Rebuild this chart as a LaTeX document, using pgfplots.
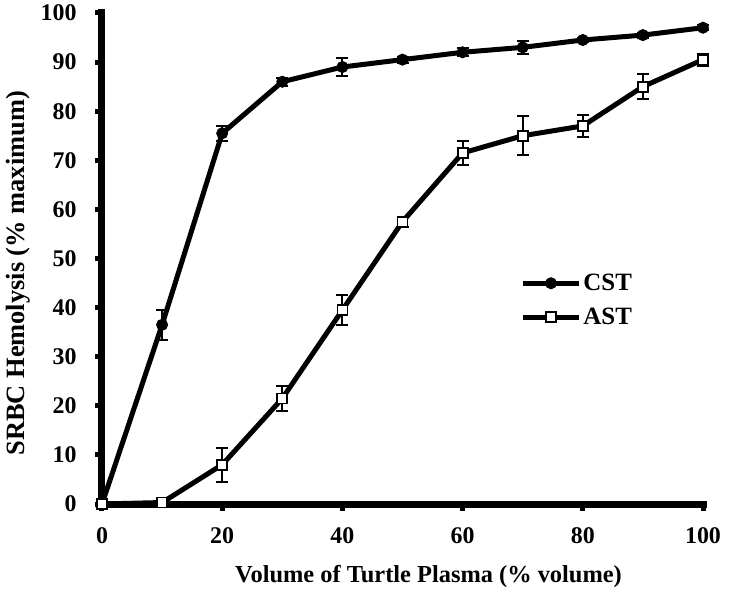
\documentclass[border=0pt]{standalone}
\usepackage{fontspec}
\setmainfont{Liberation Serif}
\usepackage{pgfplots}
\pgfplotsset{compat=1.18}
\begin{document}
\begin{tikzpicture}
\path[use as bounding box] (-102bp,-91bp) rectangle (644bp,504bp);
\begin{axis}[
  scale only axis,
  width=601bp, height=491bp,
  at={(0,0)}, anchor=south west,
  xmin=0, xmax=100, ymin=0, ymax=100,
  axis x line*=bottom, axis y line*=left,
  axis line style={line width=7bp, line cap=rect},
  xtick={0,20,40,60,80,100},
  ytick={0,10,...,100},
  tick style={line width=5bp, black},
  major tick length=7bp,
  tick align=outside,
  /pgf/number format/assume math mode=true,
  tick label style={font=\fontsize{24}{28}\selectfont\bfseries},
  xticklabel style={anchor=north, yshift=-13bp},
  yticklabel style={anchor=east, xshift=-15bp},
  xlabel={Volume of Turtle Plasma (\% volume)},
  ylabel={SRBC Hemolysis (\% maximum)},
  xlabel style={font=\fontsize{24.5}{28}\selectfont\bfseries,
    at={([yshift=-73bp,xshift=26bp]axis description cs:0.5,0)}, anchor=center},
  ylabel style={font=\fontsize{26.5}{30}\selectfont\bfseries,
    at={([xshift=-84bp]axis description cs:0,0.47)}, anchor=center},
  clip=false,
  legend style={draw=none, fill=none, at={(axis cs:69.6,41.5)}, anchor=west,
    font=\fontsize{25}{28}\selectfont\bfseries, row sep=12bp, inner sep=0pt,
    nodes={inner sep=2bp}},
  legend cell align=left,
  legend image code/.code={\draw[#1, line width=5bp] (0bp,0bp) -- (56bp,0bp);
     \draw[#1, mark repeat=1] plot coordinates {(28bp,0bp)};},
]
\addplot[black, line width=5bp, mark=*, mark size=5.5bp,
  mark options={solid, fill=black, line width=1pt},
  error bars/.cd, y dir=both, y explicit, error bar style={line width=2bp},
  error mark options={rotate=90, mark size=6bp, line width=2bp}]
  table[x=x, y=y, y error=e] {
x y e
0 0 0
10 36.5 3
20 75.5 1.5
30 86 0.8
40 89 1.8
50 90.5 0.6
60 92 0.8
70 93 1.3
80 94.5 0.5
90 95.5 0.5
100 97 0.5
};
\addlegendentry{CST}
\addplot[black, line width=5bp, mark=square*, mark size=5bp,
  mark options={solid, fill=white, line width=1.8bp},
  error bars/.cd, y dir=both, y explicit, error bar style={line width=2bp},
  error mark options={rotate=90, mark size=6bp, line width=2bp}]
  table[x=x, y=y, y error=e] {
x y e
0 0 0
10 0.3 0
20 8 3.5
30 21.5 2.5
40 39.5 3
50 57.5 1
60 71.5 2.5
70 75 4
80 77 2.3
90 85 2.5
100 90.5 1.2
};
\addlegendentry{AST}
\end{axis}
\end{tikzpicture}
\end{document}
